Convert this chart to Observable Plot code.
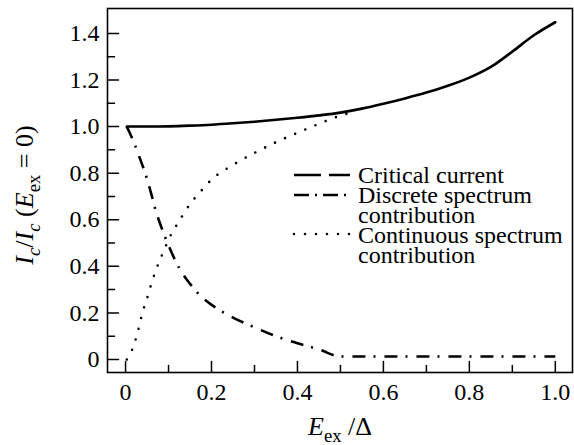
<!DOCTYPE html>
<html><head><meta charset="utf-8">
<script src="https://cdn.jsdelivr.net/npm/d3@7"></script>
<script src="https://cdn.jsdelivr.net/npm/@observablehq/plot@0.6"></script>
<style>body{margin:0;background:#fff}</style>
</head><body><div id="chart"></div>
<script>
// ---- data ----
const critX = [0.003, 0.05, 0.1, 0.15, 0.2, 0.25, 0.3, 0.35, 0.4, 0.45, 0.5, 0.55, 0.6, 0.65, 0.7, 0.75, 0.8, 0.85, 0.9, 0.95, 1.0];
const critY = [1.0, 1.0, 1.001, 1.004, 1.008, 1.014, 1.021, 1.029, 1.038, 1.048, 1.06, 1.077, 1.098, 1.121, 1.146, 1.175, 1.21, 1.256, 1.322, 1.392, 1.448];

const discX = [0.003, 0.01, 0.02, 0.03, 0.04, 0.05, 0.06, 0.07, 0.08, 0.09, 0.1, 0.125, 0.15, 0.175, 0.2, 0.25, 0.3, 0.35, 0.4, 0.45, 0.5, 0.6, 0.7, 0.8, 0.9, 1.0];
const discY = [1.0, 0.972, 0.93, 0.88, 0.83, 0.775, 0.71, 0.64, 0.585, 0.535, 0.49, 0.392, 0.325, 0.272, 0.235, 0.18, 0.138, 0.10, 0.07, 0.043, 0.013, 0.013, 0.013, 0.013, 0.013, 0.013];

const contX = [0.003, 0.01, 0.02, 0.03, 0.04, 0.05, 0.06, 0.07, 0.08, 0.09, 0.1, 0.125, 0.15, 0.175, 0.2, 0.25, 0.3, 0.35, 0.4, 0.45, 0.5, 0.52];
const contY = [0.0, 0.02, 0.065, 0.13, 0.205, 0.262, 0.325, 0.38, 0.428, 0.47, 0.514, 0.595, 0.667, 0.722, 0.772, 0.835, 0.887, 0.933, 0.973, 1.012, 1.047, 1.058];

const xTicks = [0, 0.2, 0.4, 0.6, 0.8, 1.0];
const xMinor = [0.1, 0.3, 0.5, 0.7, 0.9];
const yTicks = [0, 0.2, 0.4, 0.6, 0.8, 1.0, 1.2, 1.4];
const yMinor = [0.1, 0.3, 0.5, 0.7, 0.9, 1.1, 1.3];
const legendLabels = [["Critical current"], ["Discrete spectrum", "contribution"], ["Continuous spectrum", "contribution"]];

// ---- build rows ----
const rows = (xs, ys) => xs.map((x, i) => ({x, y: ys[i]}));
const crit = rows(critX, critY), disc = rows(discX, discY), cont = rows(contX, contY);

const FONT = "'Liberation Serif', 'Times New Roman', Tinos, 'DejaVu Serif', serif";
const fmt = d => d === 0 ? "0" : d.toFixed(1);
const tickShape = {draw(ctx, l) { ctx.moveTo(0, 0); ctx.lineTo(0, -l); }};

const dashdot = {strokeDasharray: "13,8,2,9", strokeLinecap: "butt"};
const dotted = {strokeDasharray: "0,11", strokeLinecap: "round"};

const plot = Plot.plot({
  width: 574, height: 445,
  marginLeft: 107, marginRight: 2, marginTop: 8, marginBottom: 73,
  style: {fontFamily: FONT, fontSize: "24px", background: "#fff", color: "#000"},
  x: {domain: [-0.042, 1.04]},
  y: {domain: [-0.056, 1.507]},
  marks: [
    Plot.line(crit, {x: "x", y: "y", stroke: "black", strokeWidth: 2.6, curve: "monotone-x"}),
    Plot.line(disc, {x: "x", y: "y", stroke: "black", strokeWidth: 2.6, curve: "monotone-x", ...dashdot}),
    Plot.line(cont, {x: "x", y: "y", stroke: "black", strokeWidth: 2.6, curve: "monotone-x", ...dotted}),
    Plot.vector(xTicks, {x: d => d, frameAnchor: "bottom", length: 11, rotate: 0, anchor: "start", shape: tickShape, stroke: "black", strokeWidth: 1.5}),
    Plot.vector(xMinor, {x: d => d, frameAnchor: "bottom", length: 7, rotate: 0, anchor: "start", shape: tickShape, stroke: "black", strokeWidth: 1.5}),
    Plot.vector(yTicks, {y: d => d, frameAnchor: "left", length: 11, rotate: 90, anchor: "start", shape: tickShape, stroke: "black", strokeWidth: 1.5}),
    Plot.vector(yMinor, {y: d => d, frameAnchor: "left", length: 7, rotate: 90, anchor: "start", shape: tickShape, stroke: "black", strokeWidth: 1.5}),
    Plot.axisX(xTicks, {tickSize: 0, tickPadding: 10, tickFormat: fmt, label: null, fontSize: 24, fill: "black"}),
    Plot.axisY(yTicks, {tickSize: 0, tickPadding: 8, tickFormat: fmt, label: null, fontSize: 24, fill: "black"}),
    Plot.frame({stroke: "black", strokeWidth: 1.6})
  ]
});
document.getElementById("chart").appendChild(plot);

// ---- axis labels with sub/italic text ----
const svg = d3.select(plot);
function rich(sel, parts, size) {
  for (const p of parts) {
    const t = sel.append("tspan").text(p.t);
    if (p.it) t.attr("font-style", "italic");
    if (p.sub) t.attr("font-size", size * 0.72).attr("dy", size * 0.28);
    if (p.up) t.attr("dy", -size * 0.28);
  }
}
const yl = svg.append("text")
  .attr("transform", "translate(33,195) rotate(-90)")
  .attr("text-anchor", "middle").attr("font-size", 26).attr("font-family", FONT).attr("fill", "black");
rich(yl, [
  {t: "I", it: 1}, {t: "c", it: 1, sub: 1}, {t: "/", up: 1}, {t: "I", it: 1}, {t: "c", it: 1, sub: 1},
  {t: " (", up: 1}, {t: "E", it: 1}, {t: "ex", sub: 1}, {t: " = 0)", up: 1}
], 26);
const xl = svg.append("text")
  .attr("x", 340).attr("y", 435)
  .attr("text-anchor", "middle").attr("font-size", 26).attr("font-family", FONT).attr("fill", "black");
rich(xl, [{t: "E", it: 1}, {t: "ex", sub: 1}, {t: " /Δ", up: 1}], 26);

// ---- legend ----
const leg = svg.append("g").attr("font-family", FONT).attr("font-size", 24).attr("fill", "black").attr("text-anchor", "start");
const legStyles = [
  {dash: "27,8", cap: "butt"},
  {dash: "15,6,2,6", cap: "butt"},
  {dash: "0,11", cap: "round"}
];
const sampleY = [175, 195, 234];
const textBase = [[182.5], [202.7, 222.7], [242.7, 262.7]];
legendLabels.forEach((lines, i) => {
  leg.append("line").attr("x1", 294).attr("x2", 350).attr("y1", sampleY[i]).attr("y2", sampleY[i])
    .attr("stroke", "black").attr("stroke-width", 2.6)
    .attr("stroke-dasharray", legStyles[i].dash).attr("stroke-linecap", legStyles[i].cap);
  lines.forEach((s, j) => leg.append("text").attr("x", 358).attr("y", textBase[i][j]).attr("text-anchor", "start").text(s));
});
</script></body></html>
